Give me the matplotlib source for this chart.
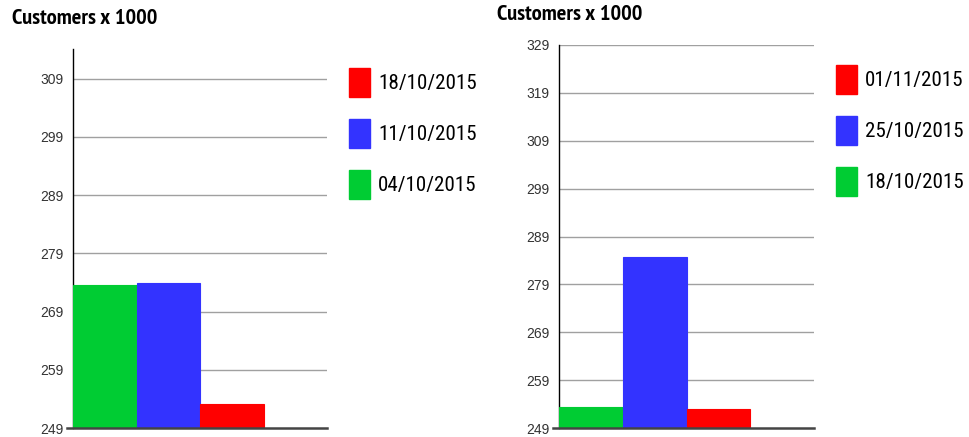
import matplotlib
matplotlib.use("Agg")
import matplotlib.pyplot as plt
from matplotlib.patches import Patch
from matplotlib.lines import Line2D

# ---- data ----
left_dates = ["04/10/2015", "11/10/2015", "18/10/2015"]
left_values = [273.6, 273.9, 253.2]
right_dates = ["18/10/2015", "25/10/2015", "01/11/2015"]
right_values = [253.4, 284.7, 253.0]
left_ticks = [249, 259, 269, 279, 289, 299, 309]
right_ticks = [249, 259, 269, 279, 289, 299, 309, 319, 329]
title_text = "Customers x 1000"

colors = ["#00CC33", "#3333FF", "#FF0000"]
TITLE_FONT = ["PT Sans Narrow", "Roboto Condensed", "DejaVu Sans"]
LEG_FONT = ["Roboto Condensed", "PT Sans Narrow", "DejaVu Sans"]
TICK_FONT = ["Liberation Sans", "DejaVu Sans"]

fig = plt.figure(figsize=(9.69, 4.37), dpi=100)
W, H = 969, 437
renderer = fig.canvas.get_renderer()


def fitted_size(text, family, weight, target_px, base=14.0):
    t = fig.text(0, 0, text, fontsize=base, family=family, fontweight=weight)
    w = t.get_window_extent(renderer=renderer).width
    t.remove()
    return base * target_px / w


title_fs = fitted_size(title_text, TITLE_FONT, "bold", 146)
leg_fs = fitted_size("18/10/2015", LEG_FONT, "normal", 99)
leg_px = leg_fs * 100 / 72.0


def px_axes(x0, x1, ytop, ybot):
    return fig.add_axes([x0 / W, 1 - ybot / H, (x1 - x0) / W, (ybot - ytop) / H])


def draw(ax, dates, values, ticks, ytop_val, legend_xy, title_xy):
    xs = list(range(len(values)))
    ax.bar(xs, [v - ticks[0] for v in values], bottom=ticks[0], width=1.0,
           align="edge", color=colors, edgecolor=colors, linewidth=0.8, zorder=3)
    ax.set_xlim(0, 4)
    ax.set_ylim(ticks[0], ytop_val)
    ax.set_yticks(ticks)
    ax.set_yticklabels([str(t) for t in ticks], fontsize=10, color="#333333",
                       family=TICK_FONT)
    ax.tick_params(axis="y", length=0, pad=7)
    ax.set_xticks([])
    for t in ticks[1:]:
        ax.axhline(t, color="#A0A0A0", linewidth=1.0, zorder=1)
    for s in ["top", "right", "bottom"]:
        ax.spines[s].set_visible(False)
    ax.spines["left"].set_color("black")
    ax.spines["left"].set_linewidth(1.0)
    ax.spines["left"].set_zorder(2)
    ax.add_line(Line2D([-0.09, 4], [ticks[0], ticks[0]], color="#444444",
                       linewidth=1.8, clip_on=False, zorder=4))
    handles = [Patch(facecolor=colors[i], edgecolor=colors[i]) for i in range(len(dates))][::-1]
    labels = dates[::-1]
    # swatch 21 x 29 px, rows 51 px apart
    hh = (29.0 / leg_px - 0.245) / 0.65
    fig.legend(handles, labels, loc="upper left",
               bbox_to_anchor=(legend_xy[0] / W, 1 - legend_xy[1] / H),
               frameon=False, prop={"family": LEG_FONT, "size": leg_fs},
               handlelength=21.0 / leg_px, handleheight=hh,
               handletextpad=8.0 / leg_px,
               labelspacing=22.0 / leg_px, borderpad=0, borderaxespad=0)
    fig.text(title_xy[0] / W, 1 - title_xy[1] / H, title_text, ha="left", va="center",
             fontsize=title_fs, fontweight="bold", family=TITLE_FONT, color="black")


axL = px_axes(73, 327, 49, 428)
draw(axL, left_dates, left_values, left_ticks, 314.1, (349, 68), (12, 19))

axR = px_axes(559, 814, 45, 428)
draw(axR, right_dates, right_values, right_ticks, 329, (836, 65), (497, 15))

fig.savefig("out.png", dpi=100)
